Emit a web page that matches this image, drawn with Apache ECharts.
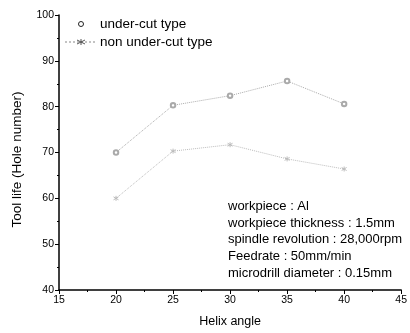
<!DOCTYPE html>
<html>
<head>
<meta charset="utf-8">
<script src="https://cdn.jsdelivr.net/npm/echarts@6/dist/echarts.min.js"></script>
<style>
  html, body { margin: 0; padding: 0; background: #fff; }
  #chart { width: 410px; height: 333px; }
</style>
</head>
<body>
<div id="chart"></div>
<script>
// helix angle vs tool life
const helixAngles = [20, 25, 30, 35, 40];
const underCut = [70, 80.3, 82.4, 85.6, 80.6];
const nonUnderCut = [60, 70.3, 71.7, 68.6, 66.4];
const notes = [
  'workpiece : Al',
  'workpiece thickness : 1.5mm',
  'spindle revolution : 28,000rpm',
  'Feedrate : 50mm/min',
  'microdrill diameter : 0.15mm'
];

const font = '"Liberation Sans", Arial, sans-serif';
const starPath = 'path://M0,-5L0,5M-5,-3L5,3M-5,3L5,-3';

const chart = echarts.init(document.getElementById('chart'));

// small asterisk for the legend, built from 3 strokes
function legendStar(cx, cy) {
  const segs = [[0, -3, 0, 3], [-4, -2, 4, 2], [-4, 2, 4, -2]];
  return segs.map(s => ({
    type: 'line',
    shape: { x1: cx + s[0], y1: cy + s[1], x2: cx + s[2], y2: cy + s[3] },
    style: { stroke: '#555', lineWidth: 1 }
  }));
}

const option = {
  animation: false,
  grid: { left: 59, right: 8, top: 15, bottom: 41 },
  xAxis: {
    type: 'value',
    min: 15, max: 45, interval: 5,
    name: 'Helix angle',
    nameLocation: 'middle',
    nameGap: 25,
    nameTextStyle: { fontFamily: font, fontSize: 12.5, color: '#000' },
    axisLine: { lineStyle: { color: '#000', width: 1.5 } },
    axisTick: { inside: false, length: 4, lineStyle: { color: '#000' } },
    minorTick: { show: true, splitNumber: 2, length: 2, lineStyle: { color: '#000' } },
    axisLabel: { fontFamily: font, fontSize: 10.5, color: '#000', margin: 5 },
    splitLine: { show: false }
  },
  yAxis: {
    type: 'value',
    min: 40, max: 100, interval: 10,
    name: 'Tool life (Hole number)',
    nameLocation: 'middle',
    nameGap: 35,
    nameTextStyle: { fontFamily: font, fontSize: 13.5, color: '#000', padding: [0, 14, 0, 0] },
    axisLine: { show: true, lineStyle: { color: '#000', width: 1.5 } },
    axisTick: { show: true, inside: false, length: 4, lineStyle: { color: '#000' } },
    minorTick: { show: true, splitNumber: 2, length: 2, lineStyle: { color: '#000' } },
    axisLabel: { fontFamily: font, fontSize: 10.5, color: '#000', margin: 5 },
    splitLine: { show: false }
  },
  series: [
    {
      name: 'under-cut type',
      type: 'line',
      data: helixAngles.map((a, i) => [a, underCut[i]]),
      symbol: 'emptyCircle',
      symbolSize: 4.5,
      itemStyle: { color: '#aaa', borderColor: '#999', borderWidth: 1 },
      lineStyle: { color: '#aaa', width: 1, type: 'dotted' }
    },
    {
      name: 'non under-cut type',
      type: 'line',
      data: helixAngles.map((a, i) => [a, nonUnderCut[i]]),
      symbol: starPath,
      symbolSize: 5,
      itemStyle: { color: 'none', borderColor: '#bbb', borderWidth: 1 },
      lineStyle: { color: '#bbb', width: 1, type: 'dotted' }
    }
  ],
  graphic: [
    // legend
    { type: 'circle', shape: { cx: 81, cy: 24, r: 2.5 }, style: { fill: 'none', stroke: '#222', lineWidth: 1 } },
    { type: 'text', x: 100, y: 17, style: { text: 'under-cut type', font: '13.5px ' + font, fill: '#000' } },
    { type: 'line', shape: { x1: 65, y1: 42, x2: 97, y2: 42 }, style: { stroke: '#888', lineWidth: 1, lineDash: [2, 2] } },
    { type: 'text', x: 100, y: 35, style: { text: 'non under-cut type', font: '13.5px ' + font, fill: '#000' } }
  ].concat(legendStar(81, 42)).concat(notes.map((t, i) => ({
    type: 'text', x: 228, y: 200 + i * 16.7,
    style: { text: t, font: '13px ' + font, fill: '#000' }
  })))
};

chart.setOption(option);
</script>
</body>
</html>
